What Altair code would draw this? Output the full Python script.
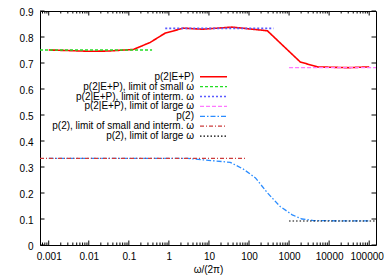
import altair as alt
import pandas as pd

# ---------------- data ----------------
x_red = [0.001, 0.003, 0.01, 0.03, 0.13, 0.34, 0.81, 2.3, 6.8, 38, 287, 1900, 5100, 30000, 100000]
y_red = [0.750, 0.748, 0.745, 0.746, 0.752, 0.779, 0.815, 0.834, 0.830, 0.838, 0.824, 0.704, 0.685, 0.682, 0.685]

x_small = [0.000606, 0.38]
y_small = [0.75, 0.75]

x_interm = [0.81, 410]
y_interm = [0.8333, 0.8333]

x_large = [1000, 148000]
y_large = [0.6825, 0.6825]

x_p2 = [0.001, 3, 34, 72, 145, 290, 600, 1200, 2100, 4100, 20000, 100000]
y_p2 = [0.333, 0.333, 0.318, 0.292, 0.258, 0.200, 0.148, 0.116, 0.100, 0.094, 0.093, 0.093]

x_p2_small = [0.000606, 81]
y_p2_small = [0.3333, 0.3333]

x_p2_large = [1000, 148000]
y_p2_large = [0.0925, 0.0925]

legend_labels = [
    "p(2|E+P)",
    "p(2|E+P), limit of small ω",
    "p(2|E+P), limit of interm. ω",
    "p(2|E+P), limit of large ω",
    "p(2)",
    "p(2), limit of small and interm. ω",
    "p(2), limit of large ω",
]

x_major = [0.001, 0.01, 0.1, 1, 10, 100, 1000, 10000, 100000]
x_decades = [0.0001, 0.001, 0.01, 0.1, 1, 10, 100, 1000, 10000, 100000]
y_major = [0, 0.1, 0.2, 0.3, 0.4, 0.5, 0.6, 0.7, 0.8, 0.9]

X_DOMAIN = [0.000606, 148000]
Y_DOMAIN = [0, 0.9]
W, H = 336, 234
FONT = "Liberation Sans"

styles = [
    dict(color="#ff0000", dash=[1, 0], width=1.6),
    dict(color="#22dd22", dash=[3, 2], width=1.3),
    dict(color="#5a5aff", dash=[2, 2], width=1.6),
    dict(color="#ff77ff", dash=[4, 2], width=1.3),
    dict(color="#2a8cff", dash=[5, 2, 1.5, 2], width=1.3),
    dict(color="#cc3c3c", dash=[4, 2, 1, 2], width=1.3),
    dict(color="#000000", dash=[1.5, 2], width=1.1),
]

series = [
    (x_red, y_red),
    (x_small, y_small),
    (x_interm, y_interm),
    (x_large, y_large),
    (x_p2, y_p2),
    (x_p2_small, y_p2_small),
    (x_p2_large, y_p2_large),
]

xscale = alt.Scale(type="log", domain=X_DOMAIN, nice=False)
yscale = alt.Scale(domain=Y_DOMAIN, nice=False, zero=False)

xaxis = alt.Axis(values=x_major, format="~g", ticks=False, tickSize=0, domain=False, grid=False,
                 labelFont=FONT, labelFontSize=10, labelColor="black", labelPadding=6,
                 labelOffset={"condition": {"test": "datum.value >= 100000", "value": -2.5},
                              "value": 0},
                 title="ω/(2π)", titleFont=FONT, titleFontSize=10, titleFontWeight="normal",
                 titleColor="black", titlePadding=3, labelFlush=False)
yaxis = alt.Axis(values=y_major, format="~g", ticks=False, tickSize=0, domain=False, grid=False,
                 labelFont=FONT, labelFontSize=10, labelColor="black", labelPadding=7,
                 labelOffset=1.5, title=None)

X = lambda: alt.X("x:Q", scale=xscale, axis=xaxis)
Y = lambda: alt.Y("y:Q", scale=yscale, axis=yaxis)

layers = []
for (xs, ys), st in zip(series, styles):
    df = pd.DataFrame({"x": xs, "y": ys})
    layers.append(
        alt.Chart(df).mark_line(color=st["color"], strokeDash=st["dash"],
                                strokeWidth=st["width"], clip=True).encode(x=X(), y=Y())
    )

# legend (text left, line sample right)
LX_TEXT, LX0, LX1, LY0, LDY = 154, 160, 187, 65.7, 9.9
for i, (lab, st) in enumerate(zip(legend_labels, styles)):
    yy = LY0 + i * LDY
    layers.append(
        alt.Chart(pd.DataFrame({"t": [lab]})).mark_text(
            align="right", baseline="middle", font=FONT, fontSize=10, color="black"
        ).encode(text="t:N", x=alt.value(LX_TEXT), y=alt.value(yy))
    )
    layers.append(
        alt.Chart(pd.DataFrame({"t": [lab]})).mark_rule(
            color=st["color"], strokeDash=st["dash"], strokeWidth=st["width"]
        ).encode(x=alt.value(LX0), x2=alt.value(LX1), y=alt.value(yy))
    )

# inward ticks (gnuplot style, mirrored)
x_minor = [d * m for d in x_decades for m in range(2, 10)
           if X_DOMAIN[0] <= d * m <= X_DOMAIN[1]]
df_xmaj = pd.DataFrame({"x": x_major})
df_xmin = pd.DataFrame({"x": x_minor})
df_ymaj = pd.DataFrame({"y": y_major})

tick_style = dict(color="black", strokeWidth=1)
for df, L in [(df_xmaj, 4.5), (df_xmin, 2.5)]:
    layers.append(alt.Chart(df).mark_rule(**tick_style).encode(
        x=X(), y=alt.value(H), y2=alt.value(H - L)))
    layers.append(alt.Chart(df).mark_rule(**tick_style).encode(
        x=X(), y=alt.value(0), y2=alt.value(L)))
layers.append(alt.Chart(df_ymaj).mark_rule(**tick_style).encode(
    y=Y(), x=alt.value(0), x2=alt.value(4.5)))
layers.append(alt.Chart(df_ymaj).mark_rule(**tick_style).encode(
    y=Y(), x=alt.value(W), x2=alt.value(W - 4.5)))

chart = alt.layer(*layers).properties(
    width=W, height=H,
    autosize=alt.AutoSizeParams(type="none"),
    padding={"left": 32, "top": 3, "right": 8, "bottom": 30},
    background="white",
).configure_view(stroke="black", strokeWidth=1)

chart.save("out.html", embed_options={"renderer": "svg", "actions": False})
